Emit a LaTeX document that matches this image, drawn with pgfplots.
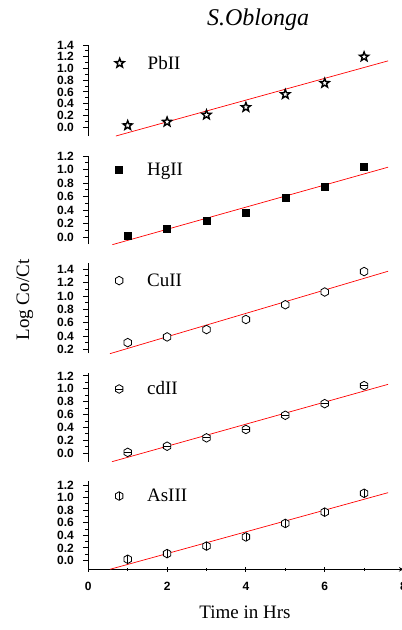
\documentclass[border=0pt]{standalone}
\usepackage{fontspec}
\setmainfont{Liberation Serif}
\setsansfont{Liberation Sans}
\usepackage{pgfplots}
\pgfplotsset{compat=1.18}
\usetikzlibrary{plotmarks}

\pgfdeclareplotmark{star5}{%
  \pgfpathmoveto{\pgfpointpolar{90}{\pgfplotmarksize}}%
  \pgfpathlineto{\pgfpointpolar{126}{0.42\pgfplotmarksize}}%
  \pgfpathlineto{\pgfpointpolar{162}{\pgfplotmarksize}}%
  \pgfpathlineto{\pgfpointpolar{198}{0.42\pgfplotmarksize}}%
  \pgfpathlineto{\pgfpointpolar{234}{\pgfplotmarksize}}%
  \pgfpathlineto{\pgfpointpolar{270}{0.42\pgfplotmarksize}}%
  \pgfpathlineto{\pgfpointpolar{306}{\pgfplotmarksize}}%
  \pgfpathlineto{\pgfpointpolar{342}{0.42\pgfplotmarksize}}%
  \pgfpathlineto{\pgfpointpolar{18}{\pgfplotmarksize}}%
  \pgfpathlineto{\pgfpointpolar{54}{0.42\pgfplotmarksize}}%
  \pgfpathclose
  \pgfusepathqfillstroke}
\pgfdeclareplotmark{hexa}{%
  \pgfpathmoveto{\pgfpointpolar{90}{\pgfplotmarksize}}%
  \pgfpathlineto{\pgfpointpolar{150}{\pgfplotmarksize}}%
  \pgfpathlineto{\pgfpointpolar{210}{\pgfplotmarksize}}%
  \pgfpathlineto{\pgfpointpolar{270}{\pgfplotmarksize}}%
  \pgfpathlineto{\pgfpointpolar{330}{\pgfplotmarksize}}%
  \pgfpathlineto{\pgfpointpolar{30}{\pgfplotmarksize}}%
  \pgfpathclose
  \pgfusepathqfillstroke}
\pgfdeclareplotmark{hexh}{%
  \pgfpathmoveto{\pgfpointpolar{90}{\pgfplotmarksize}}%
  \pgfpathlineto{\pgfpointpolar{150}{\pgfplotmarksize}}%
  \pgfpathlineto{\pgfpointpolar{210}{\pgfplotmarksize}}%
  \pgfpathlineto{\pgfpointpolar{270}{\pgfplotmarksize}}%
  \pgfpathlineto{\pgfpointpolar{330}{\pgfplotmarksize}}%
  \pgfpathlineto{\pgfpointpolar{30}{\pgfplotmarksize}}%
  \pgfpathclose
  \pgfusepathqfillstroke
  \pgfpathmoveto{\pgfpointpolar{180}{0.866\pgfplotmarksize}}%
  \pgfpathlineto{\pgfpointpolar{0}{0.866\pgfplotmarksize}}%
  \pgfusepathqstroke}
\pgfdeclareplotmark{hexv}{%
  \pgfpathmoveto{\pgfpointpolar{90}{\pgfplotmarksize}}%
  \pgfpathlineto{\pgfpointpolar{150}{\pgfplotmarksize}}%
  \pgfpathlineto{\pgfpointpolar{210}{\pgfplotmarksize}}%
  \pgfpathlineto{\pgfpointpolar{270}{\pgfplotmarksize}}%
  \pgfpathlineto{\pgfpointpolar{330}{\pgfplotmarksize}}%
  \pgfpathlineto{\pgfpointpolar{30}{\pgfplotmarksize}}%
  \pgfpathclose
  \pgfusepathqfillstroke
  \pgfpathmoveto{\pgfpointpolar{90}{\pgfplotmarksize}}%
  \pgfpathlineto{\pgfpointpolar{270}{\pgfplotmarksize}}%
  \pgfusepathqstroke}

\pgfplotsset{
  panel/.style={
    scale only axis, width=315.2pt,
    xmin=0, xmax=8,
    axis y line=left, axis line style={-, line width=1pt, black},
    tick align=outside,
    major tick length=5pt, minor tick length=3pt,
    every tick/.style={black, line width=1pt},
    minor y tick num=1,
    /pgf/number format/assume math mode=true,
    yticklabel style={font=\sffamily\bfseries\fontsize{12}{12}\selectfont, xshift=-6pt,
      /pgf/number format/.cd, fixed, fixed zerofill, precision=1},
    xticklabel style={font=\sffamily\bfseries\fontsize{12}{12}\selectfont, yshift=-7pt},
    legend style={draw=none, fill=none, anchor=west,
      font=\fontsize{19}{19}\selectfont},
    legend image code/.code={\path[draw=none,fill=none] (-4pt,0pt) -- (26pt,0pt); \draw[##1] plot coordinates {(0pt,0pt)};},
  },
  fitline/.style={red, line width=0.7pt, no marks, forget plot},
}

\begin{document}
\begin{tikzpicture}
\useasboundingbox (0pt,0pt) rectangle (402pt,-630pt);

% Panel 1: PbII
\begin{axis}[panel, at={(88.3pt,-136pt)}, anchor=south west, height=91pt,
  axis x line=none, ymin=-0.15, ymax=1.4, ytick={0,0.2,0.4,0.6,0.8,1.0,1.2,1.4},
  legend style={at={(0.075,0.80)}}]
\addplot[only marks, mark=star5, mark size=4.8pt, draw=black, fill=white, line width=1.4pt]
  coordinates {(1,0.03) (2,0.09) (3,0.21) (4,0.34) (5,0.56) (6,0.75) (7,1.20)};
\addlegendentry{PbII}
\addplot[fitline] coordinates {(0.70,-0.15) (7.61,1.13)};
\end{axis}

% Panel 2: HgII
\begin{axis}[panel, at={(88.3pt,-244pt)}, anchor=south west, height=88pt,
  axis x line=none, ymin=-0.1, ymax=1.2, ytick={0,0.2,0.4,0.6,0.8,1.0,1.2},
  legend style={at={(0.075,0.84)}}]
\addplot[only marks, mark=square*, mark size=3.5pt, black]
  coordinates {(1,0.025) (2,0.125) (3,0.25) (4,0.365) (5,0.585) (6,0.745) (7,1.045)};
\addlegendentry{HgII}
\addplot[fitline] coordinates {(0.61,-0.11) (7.61,1.035)};
\end{axis}

% Panel 3: CuII
\begin{axis}[panel, at={(88.3pt,-353pt)}, anchor=south west, height=90.5pt,
  axis x line=none, ymin=0.15, ymax=1.5, ytick={0.2,0.4,0.6,0.8,1.0,1.2,1.4},
  legend style={at={(0.075,0.80)}}]
\addplot[only marks, mark=hexa, mark size=4.3pt, draw=black, fill=white, line width=0.8pt]
  coordinates {(1,0.305) (2,0.39) (3,0.50) (4,0.65) (5,0.87) (6,1.06) (7,1.365)};
\addlegendentry{CuII}
\addplot[fitline] coordinates {(0.55,0.14) (7.61,1.37)};
\end{axis}

% Panel 4: cdII
\begin{axis}[panel, at={(88.3pt,-461.7pt)}, anchor=south west, height=89pt,
  axis x line=none, ymin=-0.13, ymax=1.25, ytick={0,0.2,0.4,0.6,0.8,1.0,1.2},
  legend style={at={(0.075,0.817)}}]
\addplot[only marks, mark=hexh, mark size=4.3pt, draw=black, fill=white, line width=0.8pt]
  coordinates {(1,0.015) (2,0.11) (3,0.24) (4,0.37) (5,0.59) (6,0.77) (7,1.05)};
\addlegendentry{cdII}
\addplot[fitline] coordinates {(0.60,-0.13) (7.61,1.07)};
\end{axis}

% Panel 5: AsIII
\begin{axis}[panel, at={(88.3pt,-569.3pt)}, anchor=south west, height=88.6pt,
  axis x line=bottom, ymin=-0.14, ymax=1.27, ytick={0,0.2,0.4,0.6,0.8,1.0,1.2},
  xtick={0,2,4,6,8}, minor x tick num=1,
  legend style={at={(0.075,0.827)}}]
\addplot[only marks, mark=hexv, mark size=4.3pt, draw=black, fill=white, line width=0.8pt]
  coordinates {(1,0.02) (2,0.11) (3,0.23) (4,0.375) (5,0.59) (6,0.77) (7,1.07)};
\addlegendentry{AsIII}
\addplot[fitline] coordinates {(0.55,-0.14) (7.61,1.08)};
\end{axis}

\node[font=\itshape\fontsize{24}{24}\selectfont] at (258pt,-20pt) {S.Oblonga};
\node[font=\fontsize{19}{19}\selectfont, rotate=90] at (25pt,-300pt) {Log Co/Ct};
\node[font=\fontsize{19}{19}\selectfont] at (245pt,-612pt) {Time in Hrs};
\end{tikzpicture}
\end{document}
